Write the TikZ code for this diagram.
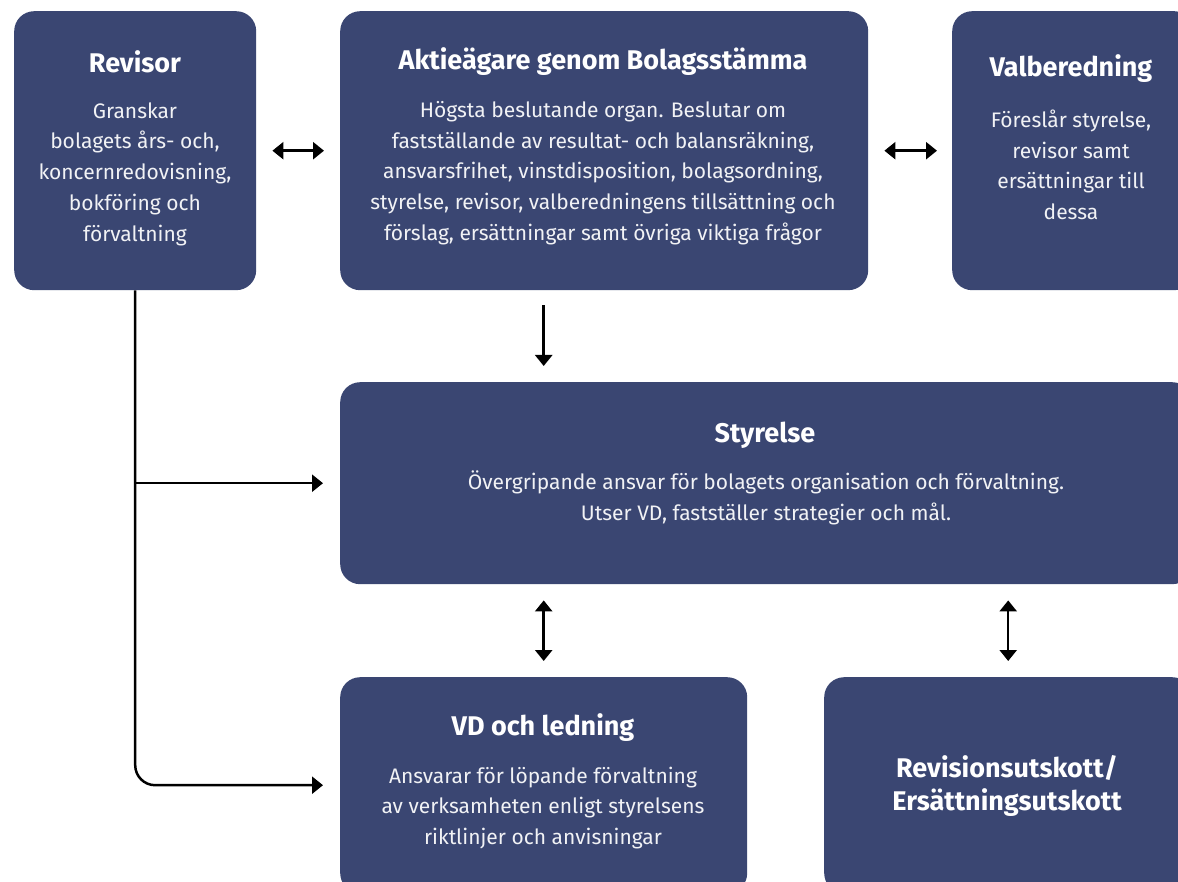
\documentclass[tikz,border=0pt]{standalone}
\usepackage{fontspec}
\setmainfont{Fira Sans}
\usetikzlibrary{arrows.meta}
\definecolor{boxblue}{RGB}{58,70,114}
\newcommand{\bodyfont}{\fontsize{21}{30.7}\selectfont}
\newcommand{\titlefont}{\fontsize{27}{33}\selectfont\bfseries}
\tikzset{
  box/.style={fill=boxblue, rounded corners=20pt, inner sep=0pt, anchor=north west},
  ttl/.style={text=white, font=\titlefont, align=center, inner sep=0pt},
  bdy/.style={text=white!93!boxblue, font=\bodyfont, align=center, inner sep=0pt},
  tip/.tip={Triangle[length=11pt,width=17pt]},
  arr/.style={line width=2.5pt, -tip},
  dbl/.style={line width=2.5pt, tip-tip},
}
\begin{document}
\begin{tikzpicture}[x=1pt,y=-1pt]
\useasboundingbox (0,0) rectangle (1178,882);
\clip (0,0) rectangle (1178,882);
% boxes
\node[box, minimum width=242pt, minimum height=279pt] (rev) at (14,11) {};
\node[box, minimum width=528pt, minimum height=279pt] (akt) at (340,11) {};
\node[box, minimum width=242pt, minimum height=279pt] (val) at (952,11) {};
\node[box, minimum width=852pt, minimum height=202pt] (sty) at (340,382) {};
\node[box, minimum width=407pt, minimum height=216pt] (vd) at (340,677) {};
\node[box, minimum width=368pt, minimum height=216pt] (rut) at (824,677) {};
% texts
\node[ttl] (revT) at (135,62) {Revisor};
\node[bdy] (revB) at (135,174) {Granskar\\bolagets års- och,\\koncernredovisning,\\bokföring och\\förvaltning};
\node[ttl] (aktT) at (603,62) {Aktieägare genom Bolagsstämma};
\node[bdy] (aktB) at (603,173) {Högsta beslutande organ. Beslutar om\\fastställande av resultat- och balansräkning,\\ansvarsfrihet, vinstdisposition, bolagsordning,\\styrelse, revisor, valberedningens tillsättning och\\förslag, ersättningar samt övriga viktiga frågor};
\node[ttl] (valT) at (1071,69) {Valberedning};
\node[bdy] (valB) at (1071,165) {Föreslår styrelse,\\revisor samt\\ersättningar till\\dessa};
\node[ttl] (styT) at (765,435) {Styrelse};
\node[bdy] (styB) at (766,498) {Övergripande ansvar för bolagets organisation och förvaltning.\\Utser VD, fastställer strategier och mål.};
\node[ttl] (vdT) at (543,728) {VD och ledning};
\node[bdy] (vdB) at (543,808) {Ansvarar för löpande förvaltning\\av verksamheten enligt styrelsens\\riktlinjer och anvisningar};
\node[ttl] (rutT) at (1007,786) {Revisionsutskott/\\Ersättningsutskott};
% connectors
\draw[dbl, shorten <=16pt, shorten >=16pt] (rev.east) -- (akt.west);
\draw[dbl, shorten <=16pt, shorten >=15pt] (akt.east) -- (val.west);
\draw[arr, shorten <=15pt, shorten >=16pt] (akt.south -| vd.north) -- (sty.north -| vd.north);
\draw[dbl, shorten <=16pt, shorten >=16pt] (sty.south -| vd.north) -- (vd.north);
\draw[dbl, shorten <=16pt, shorten >=16pt] (sty.south -| rut.north) -- (rut.north);
\draw[arr, rounded corners=20pt, shorten >=17pt] (rev.south) |- (vd.west);
\draw[arr, shorten >=17pt] (rev.south |- sty.west) -- (sty.west);
\end{tikzpicture}
\end{document}
